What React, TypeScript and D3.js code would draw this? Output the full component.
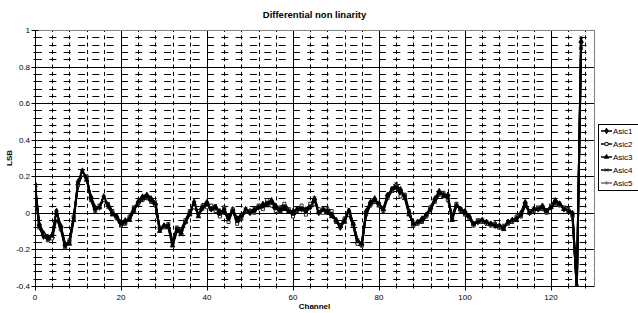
import * as d3 from 'd3';

// channel index 0..127 for every series
const asic1 = [
  0.16, -0.07, -0.13, -0.14, -0.12, 0.01, -0.08, -0.18, -0.16, -0.03,
  0.17, 0.23, 0.19, 0.08, 0.02, 0.03, 0.09, 0.04, 0.0, -0.02,
  -0.06, -0.05, -0.03, 0.02, 0.06, 0.08, 0.09, 0.07, 0.05, -0.09,
  -0.07, -0.07, -0.17, -0.09, -0.1, -0.05, 0.0, 0.06, -0.01, 0.03,
  0.05, 0.02, 0.03, 0.0, 0.02, -0.03, 0.01, -0.04, -0.02, 0.02,
  0.0, 0.01, 0.03, 0.04, 0.05, 0.06, 0.03, 0.02, 0.03, 0.01,
  0.0, 0.02, 0.02, 0.01, 0.03, 0.07, 0.0, 0.02, 0.01, -0.01,
  -0.04, -0.08, -0.04, 0.01, -0.06, -0.15, -0.17, 0.0, 0.05, 0.07,
  0.05, 0.02, 0.09, 0.13, 0.14, 0.12, 0.09, 0.0, -0.06, -0.05,
  -0.04, -0.01, 0.02, 0.07, 0.11, 0.1, 0.09, -0.03, 0.04, 0.02,
  0.0, -0.02, -0.06, -0.05, -0.04, -0.05, -0.06, -0.07, -0.07, -0.08,
  -0.05, -0.04, -0.03, -0.01, 0.05, 0.0, 0.02, 0.02, 0.03, 0.01,
  0.03, 0.06, 0.05, 0.02, 0.01, -0.01, -0.42, 0.93,
];
const asic2 = [
  0.13, -0.08, -0.12, -0.15, -0.14, -0.03, -0.09, -0.19, -0.15, -0.02,
  0.15, 0.21, 0.2, 0.07, 0.01, 0.04, 0.07, 0.05, 0.01, -0.03,
  -0.07, -0.06, -0.02, 0.03, 0.05, 0.07, 0.08, 0.06, 0.04, -0.08,
  -0.08, -0.06, -0.16, -0.08, -0.09, -0.04, 0.01, 0.03, 0.01, 0.04,
  0.03, 0.04, 0.01, -0.02, 0.03, -0.05, 0.02, -0.06, -0.03, 0.01,
  0.01, 0.0, 0.04, 0.02, 0.07, 0.04, 0.01, 0.03, 0.05, 0.02,
  -0.02, 0.01, 0.04, -0.01, 0.05, 0.05, 0.02, 0.0, 0.02, 0.01,
  -0.05, -0.07, -0.03, -0.01, -0.07, -0.17, -0.18, -0.01, 0.04, 0.06,
  0.04, 0.01, 0.08, 0.12, 0.15, 0.09, 0.1, 0.01, -0.07, -0.06,
  -0.05, -0.02, 0.03, 0.06, 0.1, 0.11, 0.07, -0.02, 0.05, 0.01,
  -0.01, -0.03, -0.07, -0.04, -0.05, -0.06, -0.07, -0.06, -0.08, -0.07,
  -0.06, -0.05, -0.02, -0.02, 0.04, 0.01, 0.01, 0.03, 0.02, 0.0,
  0.04, 0.05, 0.04, 0.03, 0.02, -0.02, -0.4, 0.9,
];
const asic3 = [
  0.15, -0.06, -0.11, -0.13, -0.13, 0.0, -0.07, -0.17, -0.17, -0.04,
  0.16, 0.22, 0.18, 0.09, 0.03, 0.03, 0.08, 0.04, -0.01, -0.02,
  -0.05, -0.04, -0.04, 0.01, 0.06, 0.09, 0.1, 0.08, 0.05, -0.1,
  -0.07, -0.08, -0.18, -0.1, -0.11, -0.05, -0.01, 0.05, -0.02, 0.04,
  0.06, 0.02, 0.03, 0.01, 0.0, -0.02, 0.02, -0.03, -0.01, 0.01,
  0.01, 0.02, 0.03, 0.05, 0.04, 0.07, 0.04, 0.01, 0.02, 0.01,
  0.01, 0.02, 0.03, 0.02, 0.04, 0.08, 0.01, 0.01, 0.0, -0.02,
  -0.04, -0.07, -0.05, 0.01, -0.06, -0.16, -0.17, 0.01, 0.06, 0.08,
  0.04, 0.02, 0.1, 0.12, 0.14, 0.13, 0.08, -0.01, -0.06, -0.05,
  -0.03, -0.01, 0.03, 0.08, 0.12, 0.09, 0.1, -0.04, 0.04, 0.02,
  0.01, -0.02, -0.06, -0.05, -0.04, -0.05, -0.06, -0.06, -0.08, -0.09,
  -0.05, -0.04, -0.04, 0.0, 0.06, 0.0, 0.02, 0.02, 0.04, 0.01,
  0.03, 0.07, 0.05, 0.02, 0.02, 0.0, -0.41, 0.94,
];
const asic4 = [
  0.14, -0.08, -0.13, -0.13, -0.13, 0.0, -0.08, -0.18, -0.16, -0.03,
  0.16, 0.22, 0.19, 0.08, 0.02, 0.04, 0.08, 0.03, 0.0, -0.03,
  -0.07, -0.05, -0.03, 0.02, 0.05, 0.08, 0.09, 0.07, 0.06, -0.09,
  -0.08, -0.07, -0.17, -0.09, -0.12, -0.04, 0.0, 0.05, -0.01, 0.02,
  0.05, 0.03, 0.04, -0.01, 0.01, -0.04, 0.01, -0.05, -0.03, 0.02,
  0.0, 0.02, 0.03, 0.04, 0.06, 0.05, 0.03, 0.01, 0.03, 0.02,
  0.0, 0.02, 0.02, 0.02, 0.03, 0.08, 0.0, 0.02, 0.01, -0.01,
  -0.04, -0.08, -0.04, 0.02, -0.06, -0.15, -0.17, 0.0, 0.05, 0.07,
  0.05, 0.02, 0.09, 0.13, 0.16, 0.12, 0.09, 0.0, -0.06, -0.05,
  -0.04, -0.01, 0.02, 0.07, 0.11, 0.1, 0.09, -0.03, 0.05, 0.02,
  0.0, -0.02, -0.06, -0.04, -0.04, -0.05, -0.06, -0.07, -0.07, -0.08,
  -0.05, -0.04, -0.03, -0.01, 0.05, 0.01, 0.02, 0.03, 0.03, 0.01,
  0.04, 0.07, 0.05, 0.03, 0.01, -0.01, -0.42, 0.96,
];
const asic5 = [
  0.15, -0.07, -0.12, -0.14, -0.13, 0.01, -0.08, -0.17, -0.16, -0.03,
  0.16, 0.21, 0.19, 0.08, 0.02, 0.03, 0.08, 0.04, 0.0, -0.02,
  -0.06, -0.05, -0.03, 0.02, 0.06, 0.07, 0.09, 0.07, 0.05, -0.09,
  -0.07, -0.06, -0.16, -0.09, -0.1, -0.05, 0.0, 0.05, -0.01, 0.03,
  0.04, 0.02, 0.03, 0.0, 0.02, -0.03, 0.01, -0.04, -0.02, 0.02,
  0.0, 0.01, 0.03, 0.04, 0.05, 0.06, 0.03, 0.02, 0.03, 0.01,
  0.0, 0.02, 0.02, 0.01, 0.03, 0.07, 0.0, 0.02, 0.01, -0.01,
  -0.04, -0.07, -0.04, 0.01, -0.06, -0.15, -0.17, 0.0, 0.05, 0.07,
  0.05, 0.02, 0.09, 0.12, 0.14, 0.12, 0.09, 0.0, -0.06, -0.05,
  -0.04, -0.01, 0.02, 0.07, 0.11, 0.1, 0.09, -0.03, 0.04, 0.02,
  0.0, -0.02, -0.06, -0.05, -0.04, -0.05, -0.06, -0.07, -0.07, -0.08,
  -0.05, -0.04, -0.03, -0.01, 0.05, 0.0, 0.02, 0.02, 0.03, 0.01,
  0.03, 0.06, 0.05, 0.02, 0.01, -0.01, -0.41, 0.92,
];

const seriesNames = ['Asic1', 'Asic2', 'Asic3', 'Asic4', 'Asic5'];
const xTicks = [0, 20, 40, 60, 80, 100, 120];
const yTicks = [-0.4, -0.2, 0, 0.2, 0.4, 0.6, 0.8, 1];

const W = 638;
const H = 313;
const margin = { top: 30, right: 44, bottom: 27, left: 35 };
const font = 'Arial, "Liberation Sans", sans-serif';

const styles = [
  { color: '#000', symbol: d3.symbolDiamond, fill: '#000', size: 10 },
  { color: '#000', symbol: d3.symbolSquare, fill: '#fff', size: 9 },
  { color: '#000', symbol: d3.symbolTriangle, fill: '#000', size: 9 },
  { color: '#000', symbol: d3.symbolX, fill: 'none', size: 9 },
  { color: '#6e6e6e', symbol: d3.symbolAsterisk, fill: 'none', size: 9 },
];

export default function App() {
  const data = [asic1, asic2, asic3, asic4, asic5];
  const x = d3.scaleLinear().domain([0, 130]).range([margin.left, W - margin.right]);
  const y = d3.scaleLinear().domain([-0.4, 1]).range([H - margin.bottom, margin.top]);
  const [x0, x1] = x.range();
  const [yb, yt] = y.range();
  const crisp = (v: number) => Math.round(v) + 0.5;

  const line = d3.line<number>().x((_, i) => x(i)).y((d) => y(d));

  const minorY = d3.range(-0.4, 1.0001, 0.04).map((v) => +v.toFixed(2));
  const minorX = d3.range(0, 130, 4);
  // draw Asic5 first, then the black series above it
  const order = [4, 3, 2, 1, 0];

  return (
    <svg width={W} height={H} style={{ position: 'absolute', left: 0, top: 0, background: '#fff' }}
      fontFamily={font}>
      <defs>
        <clipPath id="plot">
          <rect x={x0} y={yt} width={x1 - x0} height={yb - yt} />
        </clipPath>
      </defs>
      <text x={(x0 + x1) / 2} y={18} textAnchor="middle" fontSize={9.5} fontWeight="bold">
        Differential non linarity
      </text>

      {/* minor gridlines */}
      {minorY.map((v) => (
        <line key={'my' + v} x1={x0} x2={x1} y1={crisp(y(v))} y2={crisp(y(v))}
          stroke="#000" strokeWidth={1} strokeDasharray="7,7.33" />
      ))}
      {minorX.map((v) => (
        <line key={'mx' + v} x1={crisp(x(v))} x2={crisp(x(v))} y1={yt} y2={yb}
          stroke="#000" strokeWidth={1} strokeDasharray="4,3.32" strokeDashoffset={2} />
      ))}

      {/* major gridlines */}
      {yTicks.map((v) => (
        <line key={'gy' + v} x1={x0} x2={x1} y1={crisp(y(v))} y2={crisp(y(v))} stroke="#000" />
      ))}
      {xTicks.map((v) => (
        <line key={'gx' + v} x1={crisp(x(v))} x2={crisp(x(v))} y1={yt} y2={yb} stroke="#000" />
      ))}

      {/* plot frame */}
      <rect x={crisp(x0)} y={crisp(yt)} width={Math.round(x1 - x0)} height={Math.round(yb - yt)}
        fill="none" stroke="#808080" />
      <line x1={crisp(x0)} x2={crisp(x0)} y1={yt} y2={yb + 1} stroke="#000" />
      <line x1={x0} x2={x1} y1={crisp(yb)} y2={crisp(yb)} stroke="#000" />

      {/* ticks */}
      {minorY.map((v) => (
        <line key={'ty' + v} x1={crisp(x0) - 2} x2={crisp(x0) + 3} y1={crisp(y(v))} y2={crisp(y(v))} stroke="#000" />
      ))}
      {minorX.map((v) => (
        <line key={'tx' + v} x1={crisp(x(v))} x2={crisp(x(v))} y1={crisp(yb) - 3} y2={crisp(yb) + 2} stroke="#000" />
      ))}
      {yTicks.map((v) => (
        <line key={'Ty' + v} x1={crisp(x0) - 4} x2={crisp(x0)} y1={crisp(y(v))} y2={crisp(y(v))} stroke="#000" />
      ))}
      {xTicks.map((v) => (
        <line key={'Tx' + v} x1={crisp(x(v))} x2={crisp(x(v))} y1={crisp(yb)} y2={crisp(yb) + 4} stroke="#000" />
      ))}

      {/* tick labels */}
      {yTicks.map((v) => (
        <text key={'ly' + v} x={x0 - 5} y={y(v) + 3} textAnchor="end" fontSize={8}>
          {v}
        </text>
      ))}
      {xTicks.map((v) => (
        <text key={'lx' + v} x={x(v)} y={yb + 14} textAnchor="middle" fontSize={8}>
          {v}
        </text>
      ))}
      <text x={(x0 + x1) / 2} y={H - 4} textAnchor="middle" fontSize={8} fontWeight="bold">Channel</text>
      <text transform={`translate(12,${(yt + yb) / 2}) rotate(-90)`} textAnchor="middle" fontSize={8}
        fontWeight="bold">LSB</text>

      {/* series */}
      <g clipPath="url(#plot)">
        {order.map((k) => (
          <g key={seriesNames[k]}>
            <path d={line(data[k]) || ''} fill="none" stroke={styles[k].color} strokeWidth={2}
              strokeLinejoin="round" />
            {data[k].map((v, i) => (
              <path key={i} transform={`translate(${x(i)},${y(v)})`}
                d={d3.symbol(styles[k].symbol, styles[k].size)() || ''}
                fill={styles[k].fill} stroke={styles[k].color} strokeWidth={0.8} />
            ))}
          </g>
        ))}
      </g>

      {/* legend */}
      <rect x={598.5} y={124.5} width={45} height={66} fill="#fff" stroke="#000" />
      {seriesNames.map((name, k) => {
        const ly = 131 + k * 13;
        return (
          <g key={name}>
            <line x1={601} x2={612} y1={ly} y2={ly} stroke={styles[k].color} strokeWidth={1.5} />
            <path transform={`translate(606.5,${ly})`} d={d3.symbol(styles[k].symbol, styles[k].size)() || ''}
              fill={styles[k].fill} stroke={styles[k].color} strokeWidth={0.8} />
            <text x={613} y={ly + 3} fontSize={8}>{name}</text>
          </g>
        );
      })}
    </svg>
  );
}
